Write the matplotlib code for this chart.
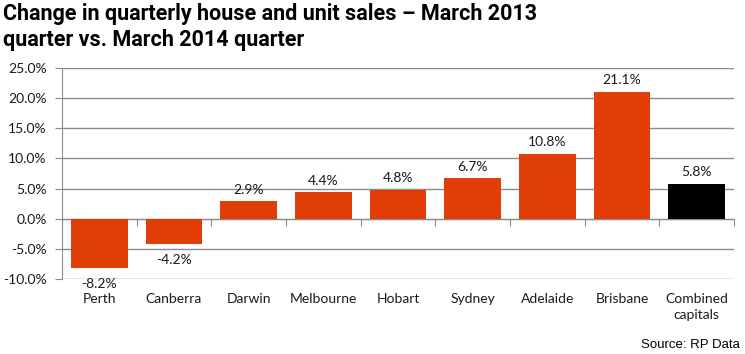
import matplotlib
matplotlib.use("Agg")
import matplotlib.pyplot as plt
import matplotlib.transforms as mtransforms

cities = ["Perth", "Canberra", "Darwin", "Melbourne", "Hobart", "Sydney",
          "Adelaide", "Brisbane", "Combined\ncapitals"]
change = [-8.2, -4.2, 2.9, 4.4, 4.8, 6.7, 10.8, 21.1, 5.8]
yticks = [-10, -5, 0, 5, 10, 15, 20, 25]

orange = "#E13D07"
grid_c = "#8C8C8C"
colors = [orange] * 8 + ["#000000"]

plt.rcParams["font.family"] = ["Lato", "DejaVu Sans"]

fig = plt.figure(figsize=(7.45, 3.54), dpi=100)
ax = fig.add_axes([62 / 745, 1 - 279 / 354, (734 - 62) / 745, (279 - 68) / 354])

x = list(range(len(cities)))
ax.bar(x, change, width=0.76, color=colors, edgecolor="none", zorder=3)

ax.set_xlim(-0.5, len(cities) - 0.5)
ax.set_ylim(-10, 25)
ax.set_yticks(yticks)
ax.set_yticklabels([f"{v:.1f}%" for v in yticks], fontsize=10, color="#1a1a1a")
ax.yaxis.grid(True, color=grid_c, linewidth=1, zorder=0)
ax.tick_params(axis="y", length=5, color=grid_c, pad=6)

for s in ["top", "right"]:
    ax.spines[s].set_visible(False)
ax.spines["left"].set_color(grid_c)
ax.spines["bottom"].set_position(("data", 0))
ax.spines["bottom"].set_color(grid_c)
ax.set_xticks([i - 0.5 for i in range(len(cities) + 1)])
ax.set_xticklabels([])
ax.tick_params(axis="x", length=5, color=grid_c, direction="out")

trans = mtransforms.blended_transform_factory(ax.transData, ax.transAxes)
for i, name in enumerate(cities):
    ax.text(i, -0.065, name, transform=trans, ha="center", va="top",
            fontsize=10, color="#1a1a1a", linespacing=1.45)

for i, v in enumerate(change):
    if v >= 0:
        ax.text(i, v + 0.9, f"{v:.1f}%", ha="center", va="bottom",
                fontsize=10, color="#1a1a1a")
    else:
        ax.text(i, v - 1.6, f"{v:.1f}%", ha="center", va="top",
                fontsize=10, color="#1a1a1a")

fig.text(3 / 745, 1 - 3 / 354,
         "Change in quarterly house and unit sales \u2013 March 2013\nquarter vs. March 2014 quarter",
         ha="left", va="top", fontsize=15.5, fontweight="bold",
         family=["Roboto", "DejaVu Sans"], linespacing=1.25)
fig.text(740 / 745, 1 - 345 / 354, "Source: RP Data", ha="right", va="center",
         fontsize=9.5, family=["Liberation Sans", "DejaVu Sans"])

fig.savefig("out.png", dpi=100)
